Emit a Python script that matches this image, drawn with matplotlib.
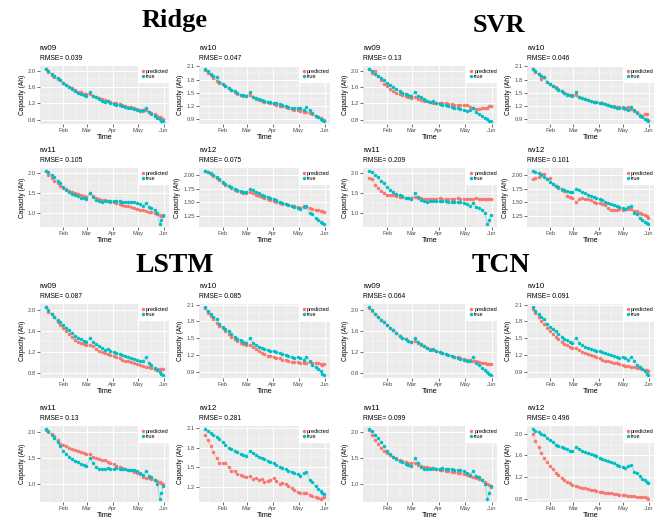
import numpy as np
import matplotlib.pyplot as plt
import matplotlib.dates as mdates

# measurement days (day of year, 2014)
day_of_year = [11, 14, 18, 21, 25, 28, 32, 35, 39, 42, 46, 49, 53, 56, 59, 64, 67, 71, 74, 78, 81,
               85, 88, 92, 95, 99, 102, 106, 109, 113, 116, 120, 123, 127, 130, 134, 137, 141, 144,
               147, 149, 151]

# measured capacity (same in every model's figure)
true_rw09 = [2.05, 1.99, 1.93, 1.87, 1.81, 1.76, 1.71, 1.66, 1.61, 1.56, 1.51, 1.46, 1.44, 1.41,
             1.38, 1.47, 1.38, 1.35, 1.31, 1.27, 1.24, 1.25, 1.21, 1.19, 1.17, 1.15, 1.13, 1.11,
             1.09, 1.08, 1.06, 1.04, 1.02, 1.03, 1.09, 0.98, 0.94, 0.89, 0.85, 0.81, 0.78, 0.76]
true_rw10 = [2.05, 1.99, 1.93, 1.88, 1.85, 1.75, 1.70, 1.66, 1.62, 1.57, 1.53, 1.49, 1.46, 1.44,
             1.42, 1.51, 1.41, 1.38, 1.35, 1.33, 1.31, 1.29, 1.28, 1.27, 1.26, 1.24, 1.22, 1.20,
             1.18, 1.16, 1.15, 1.16, 1.15, 1.11, 1.17, 1.10, 1.03, 0.98, 0.95, 0.91, 0.87, 0.85]
true_rw11 = [2.05, 2.02, 1.95, 1.88, 1.80, 1.73, 1.63, 1.57, 1.52, 1.47, 1.43, 1.41, 1.38, 1.36,
             1.34, 1.50, 1.40, 1.33, 1.29, 1.28, 1.29, 1.30, 1.29, 1.29, 1.30, 1.29, 1.28, 1.28,
             1.27, 1.26, 1.27, 1.24, 1.21, 1.17, 1.24, 1.15, 1.12, 1.06, 0.99, 0.71, 0.82, 0.95]
true_rw12 = [2.08, 2.06, 2.03, 2.00, 1.97, 1.93, 1.88, 1.84, 1.80, 1.78, 1.75, 1.73, 1.71, 1.69,
             1.68, 1.75, 1.72, 1.69, 1.66, 1.64, 1.62, 1.60, 1.58, 1.56, 1.54, 1.51, 1.49, 1.47,
             1.45, 1.43, 1.41, 1.39, 1.37, 1.41, 1.42, 1.30, 1.28, 1.21, 1.17, 1.14, 1.11, 1.09]

# predicted capacity
ridge_rw09 = [2.05, 1.97, 1.90, 1.85, 1.80, 1.76, 1.71, 1.66, 1.61, 1.57, 1.53, 1.49, 1.47, 1.44,
              1.42, 1.44, 1.39, 1.36, 1.33, 1.30, 1.28, 1.26, 1.24, 1.22, 1.20, 1.18, 1.16, 1.14,
              1.12, 1.10, 1.08, 1.06, 1.04, 1.02, 1.04, 1.00, 0.97, 0.93, 0.89, 0.86, 0.84, 0.82]
ridge_rw10 = [2.03, 1.96, 1.90, 1.83, 1.78, 1.73, 1.69, 1.65, 1.60, 1.56, 1.51, 1.48, 1.45, 1.43,
              1.42, 1.44, 1.40, 1.37, 1.34, 1.32, 1.30, 1.28, 1.26, 1.25, 1.23, 1.21, 1.19, 1.17,
              1.15, 1.13, 1.12, 1.10, 1.08, 1.07, 1.06, 1.04, 1.01, 0.98, 0.95, 0.92, 0.89, 0.87]
ridge_rw11 = [2.05, 1.95, 1.87, 1.80, 1.73, 1.67, 1.62, 1.58, 1.55, 1.52, 1.49, 1.46, 1.44, 1.42,
              1.40, 1.49, 1.42, 1.38, 1.35, 1.33, 1.31, 1.29, 1.28, 1.26, 1.24, 1.22, 1.20, 1.18,
              1.16, 1.14, 1.12, 1.10, 1.08, 1.06, 1.05, 1.03, 1.01, 0.99, 0.97, 0.95, 0.93, 0.92]
ridge_rw12 = [2.08, 2.05, 2.02, 1.99, 1.95, 1.90, 1.86, 1.82, 1.79, 1.76, 1.73, 1.71, 1.69, 1.67,
              1.66, 1.69, 1.66, 1.63, 1.61, 1.59, 1.57, 1.55, 1.54, 1.52, 1.50, 1.49, 1.47, 1.46,
              1.45, 1.43, 1.42, 1.41, 1.40, 1.42, 1.41, 1.39, 1.37, 1.36, 1.35, 1.34, 1.33, 1.32]

svr_rw09 = [2.04, 1.95, 1.99, 1.88, 1.78, 1.68, 1.62, 1.55, 1.50, 1.46, 1.43, 1.40, 1.37, 1.35,
            1.33, 1.35, 1.31, 1.29, 1.27, 1.25, 1.24, 1.22, 1.21, 1.20, 1.21, 1.20, 1.19, 1.18,
            1.17, 1.16, 1.15, 1.16, 1.15, 1.12, 1.08, 1.07, 1.07, 1.08, 1.08, 1.09, 1.14, 1.13]
svr_rw10 = [2.04, 1.97, 1.92, 1.82, 1.85, 1.74, 1.70, 1.66, 1.63, 1.58, 1.54, 1.49, 1.47, 1.46,
            1.44, 1.46, 1.41, 1.38, 1.36, 1.33, 1.31, 1.29, 1.28, 1.27, 1.26, 1.24, 1.22, 1.20,
            1.19, 1.18, 1.18, 1.17, 1.13, 1.18, 1.14, 1.09, 1.06, 1.00, 0.97, 1.01, 1.02, 0.88]
svr_rw11 = [1.87, 1.84, 1.70, 1.62, 1.55, 1.49, 1.44, 1.44, 1.43, 1.41, 1.40, 1.39, 1.38, 1.38,
            1.37, 1.40, 1.37, 1.36, 1.35, 1.35, 1.34, 1.35, 1.35, 1.36, 1.35, 1.35, 1.34, 1.35,
            1.35, 1.36, 1.35, 1.35, 1.34, 1.35, 1.35, 1.36, 1.35, 1.35, 1.35, 1.34, 1.35, 1.35]
svr_rw12 = [1.92, 1.94, 1.96, 2.01, 2.02, 1.93, 1.94, 1.84, 1.80, 1.76, 1.73, 1.70, 1.62, 1.60,
            1.58, 1.50, 1.55, 1.57, 1.56, 1.55, 1.53, 1.51, 1.49, 1.48, 1.46, 1.44, 1.40, 1.36,
            1.35, 1.35, 1.38, 1.35, 1.37, 1.37, 1.38, 1.33, 1.34, 1.30, 1.28, 1.27, 1.25, 1.21]

lstm_rw09 = [2.05, 1.96, 1.92, 1.86, 1.77, 1.71, 1.65, 1.60, 1.54, 1.48, 1.42, 1.38, 1.36, 1.35,
             1.33, 1.33, 1.30, 1.26, 1.22, 1.19, 1.17, 1.15, 1.13, 1.12, 1.10, 1.08, 1.05, 1.02,
             1.02, 1.00, 0.98, 0.96, 0.95, 0.93, 0.91, 0.90, 0.88, 0.86, 0.86, 0.87, 0.86, 0.86]
lstm_rw10 = [2.04, 1.95, 1.90, 1.84, 1.78, 1.72, 1.68, 1.63, 1.58, 1.53, 1.49, 1.45, 1.42, 1.40,
             1.38, 1.37, 1.34, 1.30, 1.27, 1.24, 1.21, 1.19, 1.19, 1.17, 1.15, 1.14, 1.12, 1.11,
             1.09, 1.08, 1.08, 1.07, 1.06, 1.06, 1.06, 1.07, 1.06, 1.06, 1.05, 1.04, 1.03, 1.04]
lstm_rw11 = [2.04, 2.00, 1.96, 1.92, 1.85, 1.76, 1.74, 1.72, 1.70, 1.68, 1.65, 1.63, 1.61, 1.59,
             1.57, 1.58, 1.52, 1.49, 1.47, 1.46, 1.45, 1.42, 1.39, 1.38, 1.35, 1.33, 1.30, 1.28,
             1.27, 1.26, 1.23, 1.20, 1.18, 1.13, 1.11, 1.10, 1.08, 1.07, 1.05, 1.03, 1.01, 1.00]
lstm_rw12 = [2.00, 1.92, 1.82, 1.73, 1.64, 1.56, 1.56, 1.57, 1.50, 1.45, 1.44, 1.40, 1.38, 1.37,
             1.35, 1.36, 1.32, 1.33, 1.31, 1.32, 1.28, 1.29, 1.31, 1.33, 1.29, 1.25, 1.26, 1.25,
             1.22, 1.18, 1.15, 1.12, 1.11, 1.11, 1.10, 1.08, 1.06, 1.04, 1.03, 1.02, 1.03, 1.05]

tcn_rw09 = [2.04, 1.98, 1.92, 1.86, 1.81, 1.76, 1.71, 1.66, 1.61, 1.56, 1.51, 1.47, 1.44, 1.41,
            1.39, 1.40, 1.36, 1.33, 1.30, 1.27, 1.25, 1.23, 1.21, 1.19, 1.17, 1.15, 1.13, 1.12,
            1.10, 1.09, 1.08, 1.06, 1.05, 1.04, 1.03, 1.02, 1.00, 0.99, 0.98, 0.97, 0.96, 0.96]
tcn_rw10 = [2.02, 1.95, 1.88, 1.81, 1.75, 1.69, 1.63, 1.58, 1.53, 1.48, 1.44, 1.40, 1.37, 1.34,
            1.32, 1.33, 1.29, 1.26, 1.24, 1.22, 1.20, 1.18, 1.16, 1.14, 1.12, 1.10, 1.09, 1.07,
            1.06, 1.05, 1.04, 1.02, 1.01, 1.00, 0.99, 0.98, 0.97, 0.96, 0.95, 0.94, 0.93, 0.92]
tcn_rw11 = [2.04, 1.95, 1.85, 1.77, 1.70, 1.64, 1.59, 1.55, 1.52, 1.49, 1.46, 1.44, 1.42, 1.40,
            1.39, 1.40, 1.37, 1.35, 1.33, 1.32, 1.30, 1.29, 1.28, 1.27, 1.26, 1.25, 1.24, 1.23,
            1.22, 1.21, 1.20, 1.19, 1.17, 1.15, 1.13, 1.11, 1.09, 1.06, 1.03, 1.00, 0.97, 0.94]
tcn_rw12 = [2.00, 1.87, 1.75, 1.64, 1.55, 1.47, 1.40, 1.34, 1.28, 1.23, 1.18, 1.14, 1.11, 1.08,
            1.06, 1.04, 1.02, 1.00, 0.99, 0.97, 0.96, 0.95, 0.94, 0.93, 0.92, 0.91, 0.90, 0.90,
            0.89, 0.88, 0.87, 0.87, 0.86, 0.85, 0.85, 0.84, 0.83, 0.83, 0.82, 0.82, 0.81, 0.80]

models = ["Ridge", "SVR", "LSTM", "TCN"]
cells = ["rw09", "rw10", "rw11", "rw12"]
rmse_ridge = ["0.039", "0.047", "0.105", "0.075"]
rmse_svr = ["0.13", "0.046", "0.209", "0.101"]
rmse_lstm = ["0.087", "0.085", "0.13", "0.281"]
rmse_tcn = ["0.064", "0.091", "0.099", "0.496"]

ticks_rw09 = [0.8, 1.2, 1.6, 2.0]
ticks_rw10 = [0.9, 1.2, 1.5, 1.8, 2.1]
ticks_rw11 = [1.0, 1.5, 2.0]
ticks_rw12_ridge_svr = [1.25, 1.50, 1.75, 2.00]
ticks_rw12_lstm = [1.2, 1.5, 1.8, 2.1]
ticks_rw12_tcn = [0.8, 1.2, 1.6, 2.0]

trues = [true_rw09, true_rw10, true_rw11, true_rw12]
preds = {
    "Ridge": [ridge_rw09, ridge_rw10, ridge_rw11, ridge_rw12],
    "SVR": [svr_rw09, svr_rw10, svr_rw11, svr_rw12],
    "LSTM": [lstm_rw09, lstm_rw10, lstm_rw11, lstm_rw12],
    "TCN": [tcn_rw09, tcn_rw10, tcn_rw11, tcn_rw12],
}
rmses = {"Ridge": rmse_ridge, "SVR": rmse_svr, "LSTM": rmse_lstm, "TCN": rmse_tcn}
yticks = {
    "Ridge": [ticks_rw09, ticks_rw10, ticks_rw11, ticks_rw12_ridge_svr],
    "SVR": [ticks_rw09, ticks_rw10, ticks_rw11, ticks_rw12_ridge_svr],
    "LSTM": [ticks_rw09, ticks_rw10, ticks_rw11, ticks_rw12_lstm],
    "TCN": [ticks_rw09, ticks_rw10, ticks_rw11, ticks_rw12_tcn],
}

dates = np.datetime64("2014-01-01") + np.array(day_of_year) - 1

# layout in pixels
W, H = 660, 520
left_cols = [(40, 169), (199, 330)]
right_cols = [(363, 497), (527, 654)]
top_rows = [(66, 124), (168, 227)]
bottom_rows = [(304, 378), (426, 502)]
group_layout = {
    "Ridge": (left_cols, top_rows, 175, 20, 19),
    "SVR": (right_cols, top_rows, 499, 26, 19),
    "LSTM": (left_cols, bottom_rows, 175, 265, 20),
    "TCN": (right_cols, bottom_rows, 501, 265, 20),
}

RED = "#F8766D"
TEAL = "#00BFC4"
BG = "#EBEBEB"
plt.rcParams["font.family"] = ["Liberation Sans", "DejaVu Sans"]

fig = plt.figure(figsize=(6.6, 5.2), dpi=100)

for model in models:
    cols, rows, tx, ty, tsize = group_layout[model]
    fig.text(tx / W, 1 - ty / H, model, family="Liberation Serif", weight="bold",
             fontsize=tsize, ha="center", va="center")
    for k, cell in enumerate(cells):
        (x0, x1), (y0, y1) = cols[k % 2], rows[k // 2]
        ax = fig.add_axes([x0 / W, 1 - y1 / H, (x1 - x0) / W, (y1 - y0) / H])
        ax.set_facecolor(BG)
        t = np.array(trues[k])
        p = np.array(preds[model][k])
        ax.plot(dates, p, color=RED, lw=0.5, alpha=0.5, zorder=2)
        ax.plot(dates, t, color=TEAL, lw=0.5, alpha=0.5, zorder=2)
        ax.plot(dates, p, "o", color=RED, ms=2.5, mew=0, label="predicted", zorder=3)
        ax.plot(dates, t, "o", color=TEAL, ms=2.5, mew=0, label="true", zorder=3)

        lo, hi = min(t.min(), p.min()), max(t.max(), p.max())
        pad = 0.05 * (hi - lo)
        ax.set_ylim(lo - pad, hi + pad)
        span = dates[-1] - dates[0]
        ax.set_xlim(dates[0] - span * 0.05, dates[-1] + span * 0.05)

        tk = yticks[model][k]
        dec = 2 if any(abs(v * 10 - round(v * 10)) > 1e-6 for v in tk) else 1
        ax.set_yticks(tk)
        ax.set_yticklabels([f"{v:.{dec}f}" for v in tk])
        ax.set_yticks([(a + b) / 2 for a, b in zip(tk[:-1], tk[1:])], minor=True)
        ax.xaxis.set_major_locator(mdates.MonthLocator(bymonth=[2, 3, 4, 5, 6]))
        ax.xaxis.set_major_formatter(mdates.DateFormatter("%b"))
        ax.xaxis.set_minor_locator(mdates.MonthLocator(bymonthday=16))
        ax.grid(which="major", color="white", lw=0.7)
        ax.grid(which="minor", color="white", lw=0.35)
        ax.set_axisbelow(True)
        for s in ax.spines.values():
            s.set_visible(False)
        ax.tick_params(which="major", length=2, width=0.5, color="#333333",
                       labelsize=4.2, labelcolor="#4D4D4D", pad=1)
        ax.tick_params(which="minor", length=0)
        ax.set_ylabel("Capacity (Ah)", fontsize=4.8, labelpad=1.5)
        ax.set_xlabel("Time", fontsize=5.2, labelpad=0.5)

        fig.text(x0 / W, 1 - (y0 - 18) / H, cell, fontsize=5.8, ha="left", va="center")
        fig.text(x0 / W, 1 - (y0 - 7) / H, "RMSE= " + rmses[model][k], fontsize=4.9,
                 ha="left", va="center")

        ax.legend(loc="upper right", bbox_to_anchor=(1.02, 1.0), borderaxespad=0,
                  fontsize=4, frameon=True, facecolor="white", edgecolor="white",
                  framealpha=1, fancybox=False, handlelength=0.6, handletextpad=0.3,
                  labelspacing=0.05, borderpad=0.5, markerscale=1.0)

fig.savefig("out.png", dpi=100, facecolor="white")
